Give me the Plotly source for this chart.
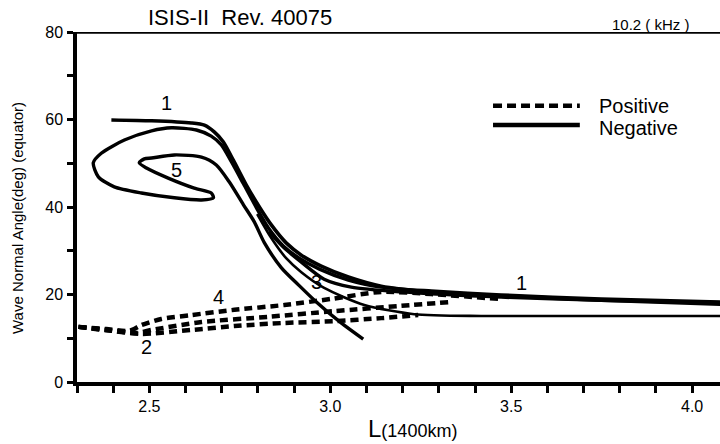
import plotly.graph_objects as go

# ---- data (L in units of 1400 km, wave normal angle in degrees) ----
neg1_L = [2.395, 2.506, 2.616, 2.652, 2.680, 2.704, 2.732, 2.768, 2.804, 2.837, 2.878, 2.920, 2.975, 3.050, 3.141, 3.279, 3.472, 3.749, 4.080]
neg1_A = [59.9, 59.7, 59.2, 58.7, 57.1, 54.9, 50.7, 45.0, 40.0, 35.9, 31.8, 29.0, 26.5, 24.0, 21.9, 20.6, 19.7, 18.7, 17.8]

neg5_L = [4.080, 3.749, 3.472, 3.279, 3.141, 3.050, 2.970, 2.914, 2.870, 2.829, 2.796, 2.760, 2.727, 2.699, 2.671, 2.630,
          2.561, 2.506, 2.431, 2.367, 2.345, 2.359, 2.403, 2.478, 2.569, 2.644, 2.677, 2.671, 2.624, 2.552, 2.492, 2.472,
          2.486, 2.506, 2.569, 2.644, 2.685, 2.721, 2.760, 2.790, 2.818, 2.865, 2.912, 2.956, 3.030, 3.091]
neg5_A = [18.3, 19.0, 19.9, 20.8, 21.7, 23.3, 25.8, 28.3, 31.1, 35.2, 39.8, 45.3, 50.3, 54.2, 56.2, 57.6,
          58.1, 57.4, 55.3, 52.3, 50.1, 46.9, 44.6, 43.2, 42.1, 41.6, 42.1, 43.2, 44.3, 46.6, 48.9, 50.1,
          51.0, 51.2, 51.9, 51.4, 49.6, 45.7, 40.5, 36.6, 31.8, 26.1, 22.2, 18.7, 13.5, 9.8]

negA_L = [2.831, 2.873, 2.920, 2.983, 3.058, 3.196, 3.472, 3.749, 4.080]
negA_A = [34.3, 30.6, 27.4, 23.5, 21.7, 20.6, 19.4, 18.7, 18.1]

neg3_L = [2.798, 2.837, 2.878, 2.920, 2.983, 3.094, 3.232, 3.417, 3.749, 4.080]
neg3_A = [38.4, 32.9, 28.3, 25.1, 21.5, 17.6, 15.5, 15.1, 15.1, 15.1]

pos4_L = [2.304, 2.381, 2.445, 2.478, 2.533, 2.616, 2.735, 2.873, 3.003, 3.141, 3.279, 3.464]
pos4_A = [12.6, 12.1, 11.7, 13.0, 14.4, 15.3, 16.5, 17.6, 19.0, 20.6, 20.1, 19.0]

posB_L = [2.304, 2.381, 2.464, 2.506, 2.644, 2.829, 3.011, 3.196, 3.334]
posB_A = [12.6, 11.9, 11.2, 11.9, 13.7, 14.9, 16.2, 17.4, 18.3]

pos2_L = [2.304, 2.395, 2.478, 2.616, 2.735, 2.873, 3.011, 3.141, 3.243]
pos2_A = [12.6, 11.7, 11.0, 11.9, 12.8, 13.5, 13.9, 14.6, 15.3]

labels = ["1", "5", "4", "3", "2", "1"]
label_L = [2.547, 2.575, 2.691, 2.961, 2.492, 3.528]
label_A = [63.8, 48.5, 19.4, 22.9, 8.0, 22.6]

x_tickvals = [2.3, 2.4, 2.5, 2.6, 2.7, 2.8, 2.9, 3.0, 3.1, 3.2, 3.3, 3.4, 3.5, 3.6, 3.7, 3.8, 3.9, 4.0]
x_ticktext = ["", "", "2.5", "", "", "", "", "3.0", "", "", "", "", "3.5", "", "", "", "", "4.0"]
y_tickvals = [0, 10, 20, 30, 40, 50, 60, 70, 80]
y_ticktext = ["0", "", "20", "", "40", "", "60", "", "80"]

FONT = "Liberation Sans, Arial, Helvetica, sans-serif"

fig = go.Figure()

solid = [(neg1_L, neg1_A, 3.6), (neg5_L, neg5_A, 3.4), (negA_L, negA_A, 3.4), (neg3_L, neg3_A, 2.6)]
for xs, ys, w in solid:
    fig.add_trace(go.Scatter(x=xs, y=ys, mode="lines", showlegend=False, hoverinfo="skip",
                             line=dict(color="black", width=w, shape="spline", smoothing=0.7)))

dashed = [(pos4_L, pos4_A), (posB_L, posB_A), (pos2_L, pos2_A)]
for xs, ys in dashed:
    fig.add_trace(go.Scatter(x=xs, y=ys, mode="lines", showlegend=False, hoverinfo="skip",
                             line=dict(color="black", width=4.5, dash="8px,5px", shape="spline", smoothing=0.7)))

for t, lx, ly in zip(labels, label_L, label_A):
    fig.add_annotation(x=lx, y=ly, text=t, showarrow=False,
                       font=dict(family=FONT, size=20, color="black"))

# top frame line at 80
fig.add_shape(type="line", xref="paper", yref="y", x0=0, x1=1, y0=80, y1=80,
              line=dict(color="black", width=3.5))

# legend drawn manually
fig.add_shape(type="line", xref="paper", yref="paper", x0=0.647, x1=0.782, y0=0.789, y1=0.789,
              line=dict(color="black", width=4.5, dash="9px,5px"))
fig.add_shape(type="line", xref="paper", yref="paper", x0=0.647, x1=0.782, y0=0.734, y1=0.734,
              line=dict(color="black", width=4.5))
fig.add_annotation(xref="paper", yref="paper", x=0.808, y=0.789, text="Positive", showarrow=False,
                   xanchor="left", yanchor="middle", font=dict(family=FONT, size=20, color="black"))
fig.add_annotation(xref="paper", yref="paper", x=0.808, y=0.725, text="Negative", showarrow=False,
                   xanchor="left", yanchor="middle", font=dict(family=FONT, size=20, color="black"))

# titles
fig.add_annotation(xref="paper", yref="paper", x=(240 - 77) / 643, y=(382 - 18) / 350,
                   text="ISIS-II  Rev. 40075", showarrow=False, xanchor="center", yanchor="middle",
                   font=dict(family=FONT, size=22, color="black"))
fig.add_annotation(xref="paper", yref="paper", x=(651 - 77) / 643, y=(382 - 25) / 350,
                   text="10.2 ( kHz )", showarrow=False, xanchor="center", yanchor="middle",
                   font=dict(family=FONT, size=15, color="black"))
fig.add_annotation(xref="paper", yref="paper", x=(412 - 77) / 643, y=(382 - 428) / 350,
                   text="L<span style='font-size:18px'>(1400km)</span>", showarrow=False,
                   xanchor="center", yanchor="middle", font=dict(family=FONT, size=24, color="black"))
fig.add_annotation(xref="paper", yref="paper", x=(18 - 77) / 643, y=(382 - 218) / 350,
                   text="Wave Normal Angle(deg) (equator)", showarrow=False, textangle=-90,
                   xanchor="center", yanchor="middle", font=dict(family=FONT, size=15, color="black"))

fig.update_layout(
    width=720, height=444,
    margin=dict(l=77, r=0, t=32, b=62),
    paper_bgcolor="white", plot_bgcolor="white",
    xaxis=dict(range=[2.3, 4.077], showgrid=False, zeroline=False, showline=True, linecolor="black",
               linewidth=3.5, ticks="outside", ticklen=7, tickwidth=3, tickcolor="black",
               tickvals=x_tickvals, ticktext=x_ticktext,
               tickfont=dict(family=FONT, size=16, color="black")),
    yaxis=dict(range=[0, 80], showgrid=False, zeroline=False, showline=True, linecolor="black",
               linewidth=3.5, ticks="outside", ticklen=6, tickwidth=3, tickcolor="black",
               tickvals=y_tickvals, ticktext=y_ticktext, ticklabelstandoff=1,
               tickfont=dict(family=FONT, size=16, color="black")),
)

fig.write_html("out.html")
